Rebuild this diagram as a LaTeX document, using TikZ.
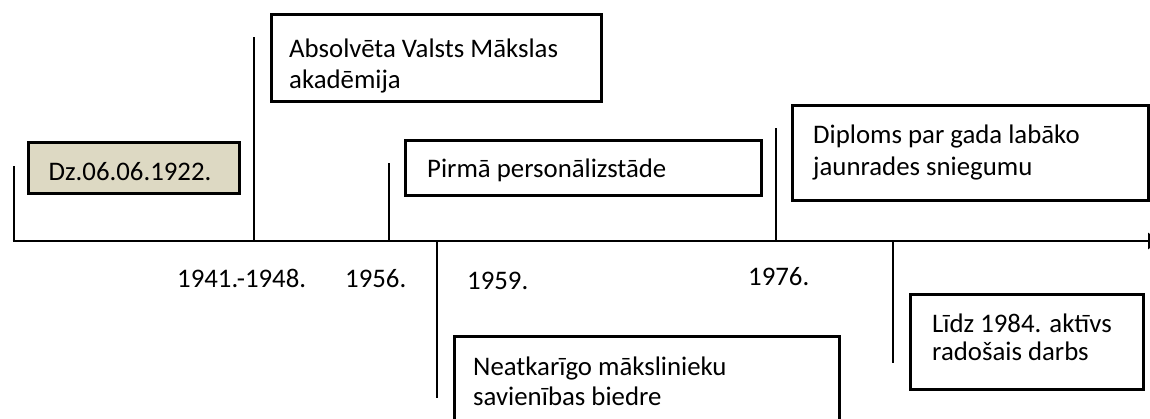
\documentclass[tikz,border=0pt]{standalone}
\usepackage{fontspec}
\setmainfont{Carlito}
\usetikzlibrary{arrows.meta}
\definecolor{tanfill}{HTML}{DDD9C3}
\tikzset{
  box/.style={draw=black, line width=2.6pt, fill=white, inner sep=0pt, anchor=north west},
  tanbox/.style={box, fill=tanfill},
  txt/.style={inner sep=0pt, anchor=base west, font=\fontsize{26.8}{32}\selectfont},
  tick/.style={line width=2.6pt},
  axis/.style={line width=2.8pt}
}
\begin{document}
\begin{tikzpicture}[x=1pt,y=-1pt]
\useasboundingbox (0,0) rectangle (1150,418);
% axis
\coordinate (a0) at (14,166);
\coordinate (a1) at (14,241);
\coordinate (a2) at (1160,241);
\draw[axis] (a0) -- (a1);
\draw[axis, -{Triangle[width=16pt,length=12pt]}] (12.6,241) -- (a2);
% ticks
\coordinate (v1t) at (254,37);  \coordinate (v1b) at (254,241);
\coordinate (v2t) at (389,163); \coordinate (v2b) at (389,241);
\coordinate (v3t) at (437,241); \coordinate (v3b) at (437,398);
\coordinate (v4t) at (776,128); \coordinate (v4b) at (776,241);
\coordinate (v5t) at (893,241); \coordinate (v5b) at (893,363);
\draw[tick] (v1t) -- (v1b);
\draw[tick] (v2t) -- (v2b);
\draw[tick] (v3t) -- (v3b);
\draw[tick] (v4t) -- (v4b);
\draw[tick] (v5t) -- (v5b);
% boxes
\node[tanbox, minimum width=211pt, minimum height=51pt] (b0) at (27,141) {};
\node[box, minimum width=330pt, minimum height=87pt] (b1) at (270,13) {};
\node[box, minimum width=356pt, minimum height=55pt] (b2) at (404,139) {};
\node[box, minimum width=385pt, minimum height=110pt] (b3) at (453,335) {};
\node[box, minimum width=356pt, minimum height=95pt] (b4) at (791,104) {};
\node[box, minimum width=233pt, minimum height=95pt] (b5) at (909,293) {};
% texts
\node[txt, anchor=base] (t0) at (130,180) {Dz.06.06.1922.};
\node[txt] (t1a) at (289,57) {Absolvēta Valsts Mākslas};
\node[txt] (t1b) at (289,88) {akadēmija};
\node[txt] (t2) at (427,177) {Pirmā personālizstāde};
\node[txt] (t3a) at (473,375) {Neatkarīgo mākslinieku};
\node[txt] (t3b) at (473,405) {savienības biedre};
\node[txt] (t4a) at (813,143) {Diploms par gada labāko};
\node[txt] (t4b) at (813,175) {jaunrades sniegumu};
\node[txt] (t5a) at (932,332) {Līdz 1984. aktīvs};
\node[txt] (t5b) at (932,360) {radošais darbs};
% years
\node[txt] (y1) at (177,287) {1941.-1948.};
\node[txt] (y2) at (345,287) {1956.};
\node[txt] (y3) at (467,289) {1959.};
\node[txt] (y4) at (748,285) {1976.};
\end{tikzpicture}
\end{document}
